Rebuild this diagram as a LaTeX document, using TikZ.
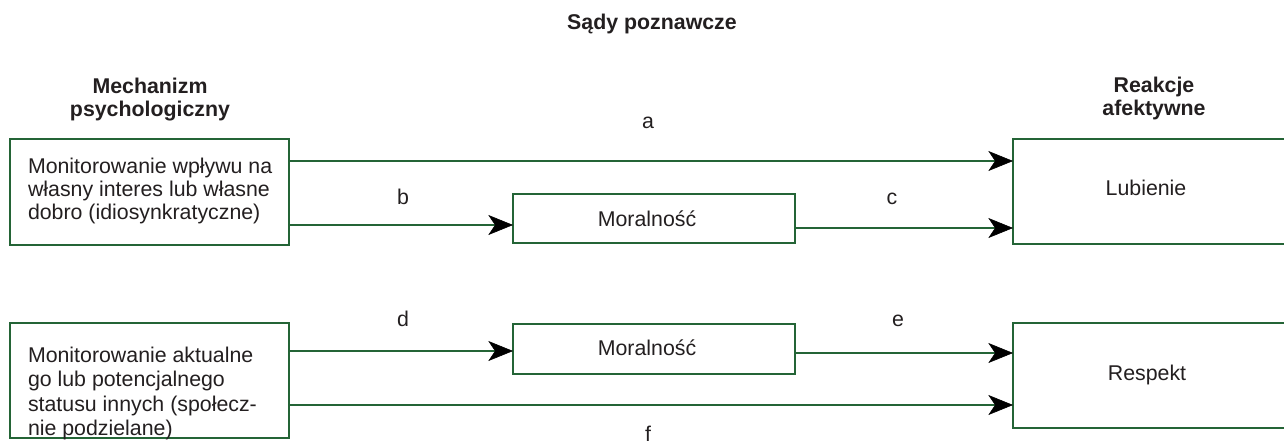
\documentclass[tikz,border=0pt]{standalone}
\usepackage{fontspec}
\setmainfont{Liberation Sans}
\usetikzlibrary{arrows.meta,calc}
\definecolor{boxgreen}{RGB}{36,100,54}
\definecolor{ink}{RGB}{35,31,32}

\tikzset{
  txt/.style={text=ink, inner sep=0pt, outer sep=0pt,
    font=\fontsize{16}{17.6}\selectfont},
  bold/.style={txt, font=\fontsize{16}{17.6}\selectfont\bfseries},
  frame/.style={draw=boxgreen, line width=2pt, rectangle, fill=white,
    inner sep=0pt, outer sep=0pt, anchor=north west},
  conn/.style={draw=boxgreen, line width=2pt,
    -{Stealth[length=18.5pt, width=15pt, inset=5pt, color=black, line width=0.4pt]}},
}

\begin{document}
\begin{tikzpicture}[x=0.75pt, y=-0.75pt]
\useasboundingbox (0,0) rectangle (1284,443);
\clip (0,0) rectangle (1284,443);

% heights of the connector lines
\coordinate (ya) at (0,161);
\coordinate (yb) at (0,225);
\coordinate (yc) at (0,228);
\coordinate (yd) at (0,351);
\coordinate (ye) at (0,353);
\coordinate (yf) at (0,405);

% headings
\node[bold, anchor=base] (title) at (652,29) {Sądy poznawcze};
\node[bold, anchor=base] (hmech) at (150,93)
  {\begin{tabular}[t]{@{}c@{}}Mechanizm\\psychologiczny\end{tabular}};
\node[bold, anchor=base] (hreak) at (1154,92)
  {\begin{tabular}[t]{@{}c@{}}Reakcje\\afektywne\end{tabular}};

% boxes
\node[frame, minimum width=209.25pt, minimum height=79.5pt] (m1) at (10,139) {};
\node[frame, minimum width=209.25pt, minimum height=86.25pt] (m2) at (10,323) {};
\node[frame, minimum width=211.5pt, minimum height=36.75pt] (mo1) at (513,194) {};
\node[frame, minimum width=211.5pt, minimum height=37.5pt] (mo2) at (513,324) {};
\node[frame, minimum width=217.5pt, minimum height=78.75pt] (lub) at (1013,139) {};
\node[frame, minimum width=217.5pt, minimum height=78.75pt] (res) at (1013,323) {};

% box texts
\node[txt, anchor=base west] (t1) at (28,173)
  {\begin{tabular}[t]{@{}l@{}}Monitorowanie wpływu na\\własny interes lub własne\\dobro (idiosynkratyczne)\end{tabular}};
\node[txt, anchor=base west, font=\fontsize{16}{18.4}\selectfont] (t2) at (28,362)
  {\begin{tabular}[t]{@{}l@{}}Monitorowanie aktualne\\go lub potencjalnego\\statusu innych (społecz-\\nie podzielane)\end{tabular}};
\node[txt, anchor=base] (tmo1) at (647,226) {Moralność};
\node[txt, anchor=base] (tmo2) at (647,355) {Moralność};
\node[txt, anchor=base] (tlub) at (1146,195) {Lubienie};
\node[txt, anchor=base] (tres) at (1147,380) {Respekt};

% connectors
\draw[conn] (m1.east |- ya) -- (lub.west |- ya);
\draw[conn] (m1.east |- yb) -- (mo1.west |- yb);
\draw[conn] (mo1.east |- yc) -- (lub.west |- yc);
\draw[conn] (m2.east |- yd) -- (mo2.west |- yd);
\draw[conn] (mo2.east |- ye) -- (res.west |- ye);
\draw[conn] (m2.east |- yf) -- (res.west |- yf);

% connector labels
\node[txt, anchor=base] (la) at (648,128) {a};
\node[txt, anchor=base] (lb) at (403,204) {b};
\node[txt, anchor=base] (lc) at (892,204) {c};
\node[txt, anchor=base] (ld) at (403,326) {d};
\node[txt, anchor=base] (le) at (898,326) {e};
\node[txt, anchor=base] (lf) at (648,441) {f};
\end{tikzpicture}
\end{document}
